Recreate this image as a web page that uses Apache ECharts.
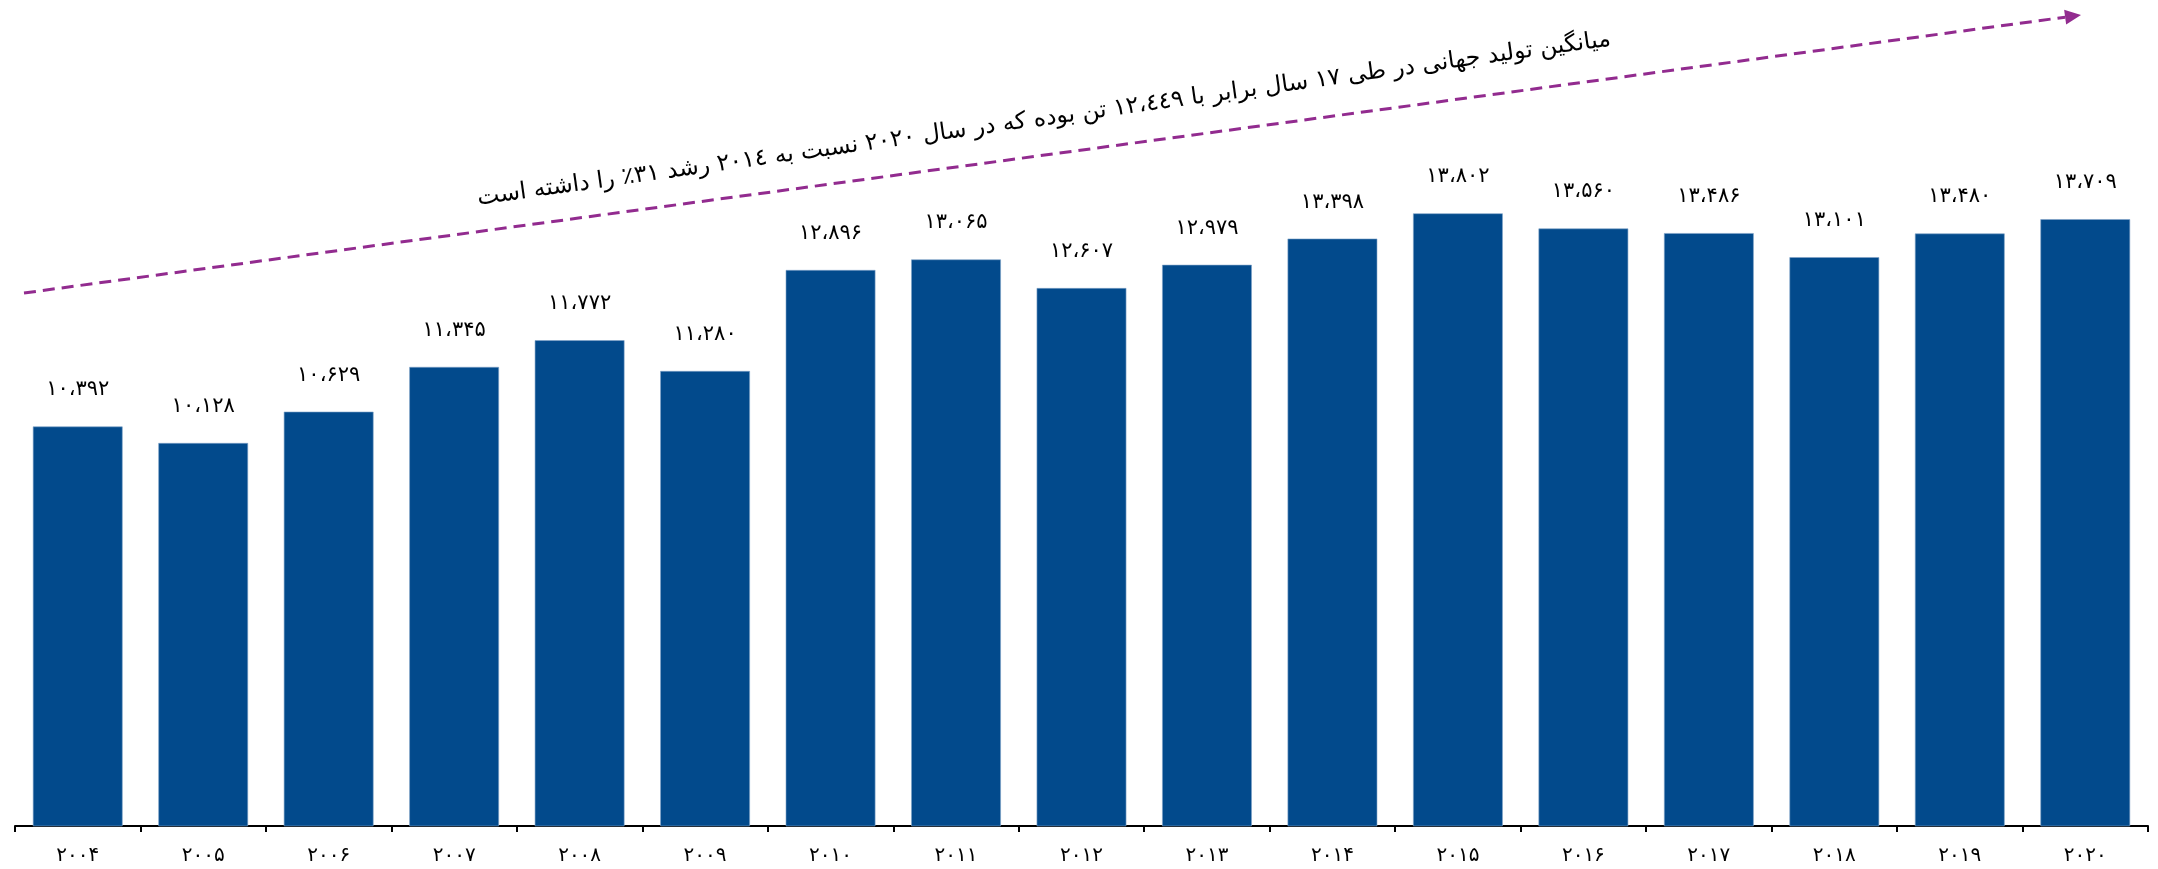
<!DOCTYPE html>
<html>
<head>
<meta charset="utf-8">
<script src="https://cdn.jsdelivr.net/npm/echarts@6/dist/echarts.min.js"></script>
<style>
html,body{margin:0;padding:0;background:#fff;}
#chart{width:2158px;height:869px;}
</style>
</head>
<body>
<div id="chart"></div>
<script>
// ---- data ----
const years = ['2004','2005','2006','2007','2008','2009','2010','2011','2012','2013','2014','2015','2016','2017','2018','2019','2020'];
const production = [10392,10128,10629,11345,11772,11280,12896,13065,12607,12979,13398,13802,13560,13486,13101,13480,13709];
const noteText = 'میانگین تولید جهانی در طی ۱۷ سال برابر با ۱۲،٤٤۹ تن بوده که در سال ۲۰۲۰ نسبت به ۲۰۱٤ رشد ۳۱٪ را داشته است';

const faDigits = '۰۱۲۳۴۵۶۷۸۹';
function toFa(s){ return String(s).replace(/\d/g, d => faDigits[d]); }
function fmtNum(v){ return toFa(v.toLocaleString('en-US').replace(/,/g,'،')); }

const FONT = '"DejaVu Sans", sans-serif';

// arrow geometry (annotation)
const ax1 = 24, ay1 = 293, ax2 = 2081, ay2 = 15;
const ang = Math.atan2(ay2 - ay1, ax2 - ax1);
const headLen = 16, headHalf = 7.5;
const bx = ax2 - headLen*Math.cos(ang), by = ay2 - headLen*Math.sin(ang);
const px = -Math.sin(ang), py = Math.cos(ang);
const purple = '#922B8F';

const chart = echarts.init(document.getElementById('chart'));
chart.setOption({
  animation: false,
  backgroundColor: '#ffffff',
  grid: { left: 15, right: 10, top: 26, bottom: 43, containLabel: false },
  xAxis: {
    type: 'category',
    data: years,
    axisLine: { lineStyle: { color: '#000', width: 2 } },
    axisTick: { show: true, length: 6, lineStyle: { color: '#000', width: 2 } },
    axisLabel: { color: '#000', fontSize: 20, fontFamily: FONT, margin: 20, formatter: v => toFa(v) }
  },
  yAxis: {
    type: 'value', min: 4000, max: 16800, show: false,
    splitLine: { show: false }
  },
  series: [{
    type: 'bar',
    data: production,
    barCategoryGap: '28.5%',
    itemStyle: { color: '#024A8C', borderColor: '#7FA3C8', borderWidth: 0.6 },
    label: {
      show: true, position: 'top', distance: 26,
      color: '#000', fontSize: 21, fontFamily: FONT,
      formatter: p => fmtNum(p.value)
    }
  }],
  graphic: [
    {
      type: 'line',
      shape: { x1: ax1, y1: ay1, x2: bx, y2: by },
      style: { stroke: purple, lineWidth: 3, lineDash: [12, 7] },
      silent: true
    },
    {
      type: 'polygon',
      shape: { points: [[ax2, ay2], [bx + px*headHalf, by + py*headHalf], [bx - px*headHalf, by - py*headHalf]] },
      style: { fill: purple },
      silent: true
    },
    {
      type: 'text',
      x: 1044, y: 119,
      rotation: 8 * Math.PI / 180,
      style: {
        text: noteText, x: 0, y: 0,
        align: 'center', verticalAlign: 'middle',
        font: '23.5px ' + FONT, fill: '#000'
      },
      silent: true
    }
  ]
});
</script>
</body>
</html>
